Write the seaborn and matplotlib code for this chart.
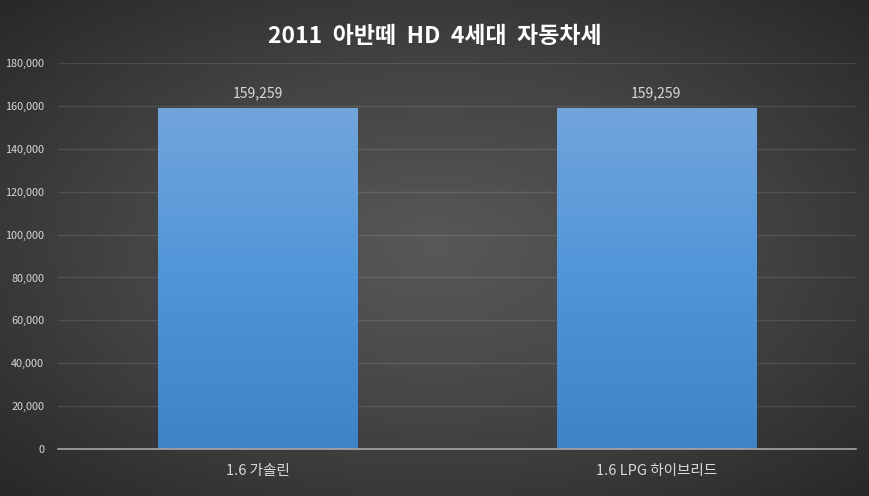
import numpy as np
import pandas as pd
import seaborn as sns
import matplotlib.pyplot as plt
from matplotlib.colors import LinearSegmentedColormap

categories = ["1.6 가솔린", "1.6 LPG 하이브리드"]
tax = [159259, 159259]
y_ticks = [0, 20000, 40000, 60000, 80000, 100000, 120000, 140000, 160000, 180000]

sns.set_theme(style="dark")
plt.rcParams['font.family'] = ['Noto Sans CJK KR', 'DejaVu Sans']

df = pd.DataFrame({"차종": categories, "자동차세": tax})

fig = plt.figure(figsize=(8.7, 4.96), dpi=100)

# radial gradient background
bg = fig.add_axes([0, 0, 1, 1], zorder=-10)
yy, xx = np.mgrid[-1:1:300j, -1:1:500j]
r = np.sqrt(xx ** 2 + yy ** 2) / np.sqrt(2)
bg_cmap = LinearSegmentedColormap.from_list("bg", ["#585858", "#444444", "#282828"])
bg.imshow(r, cmap=bg_cmap, vmin=0, vmax=1.0, aspect="auto", extent=[0, 1, 0, 1])
bg.axis("off")

ax = fig.add_axes([0.0667, 0.0948, 0.917, 0.778])
ax.patch.set_alpha(0)
sns.barplot(data=df, x="차종", y="자동차세", ax=ax, width=0.5,
            color="#5b9bd5", edgecolor="none", saturation=1)

# vertical gradient on each bar
bar_cmap = LinearSegmentedColormap.from_list("bar", ["#3f83c6", "#5095d8", "#72a5dc"])
grad = np.linspace(0, 1, 256).reshape(-1, 1)
for p in ax.patches:
    x0, y0 = p.get_x(), p.get_y()
    w, h = p.get_width(), p.get_height()
    im = ax.imshow(grad, cmap=bar_cmap, origin="lower", aspect="auto",
                   extent=[x0, x0 + w, y0, y0 + h], zorder=2)
    im.set_clip_path(p)
    p.set_facecolor("none")
    ax.text(x0 + w / 2, h + 3500, f"{int(h):,}", ha="center", va="bottom",
            color="#d9d9d9", fontsize=10)

ax.set_xlim(-0.5, 1.5)
ax.set_ylim(0, 180000)
ax.set_yticks(y_ticks)
ax.set_yticklabels([f"{v:,}" for v in y_ticks], color="#d9d9d9", fontsize=7.8)
ax.tick_params(axis="x", colors="#d9d9d9", labelsize=10.5, length=0, pad=11)
ax.tick_params(axis="y", length=0, pad=10)
ax.yaxis.grid(True, color="white", alpha=0.11, linewidth=1)
ax.xaxis.grid(False)
ax.set_axisbelow(True)
for s in ["top", "right", "left"]:
    ax.spines[s].set_visible(False)
ax.spines["bottom"].set_color("#a6a6a6")
ax.spines["bottom"].set_linewidth(1.2)
ax.set_xlabel("")
ax.set_ylabel("")

fig.text(0.5, 0.927, "2011  아반떼  HD  4세대  자동차세", ha="center", va="center",
         color="white", fontsize=16.5, fontweight="bold")

fig.savefig("out.png", dpi=100)
